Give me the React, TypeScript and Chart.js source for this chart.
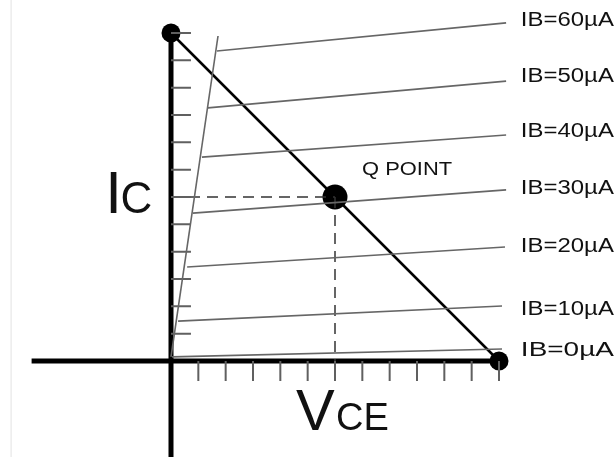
import React, { useEffect, useRef } from "react";
import { Chart, registerables } from "chart.js";

Chart.register(...registerables);

// ---- data (units: VCE divisions on x, IC divisions on y) ----
const ibLabels = ["IB=60µA", "IB=50µA", "IB=40µA", "IB=30µA", "IB=20µA", "IB=10µA", "IB=0µA"];
// where each IB curve leaves the saturation line
const curveStartX = [1.68, 1.35, 1.13, 0.8, 0.59, 0.26, 0.04];
const curveStartY = [11.34, 9.26, 7.46, 5.41, 3.44, 1.46, 0.15];
// right-hand end of each IB curve
const curveEndX = [12.26, 12.26, 12.26, 12.26, 12.22, 12.11, 12.11];
const curveEndY = [12.37, 10.24, 8.27, 6.26, 4.17, 2.01, 0.44];
// label vertical anchors (text centre)
const labelY = [12.45, 10.4, 8.38, 6.3, 4.2, 1.9, 0.4];
const labelX = 12.8;

// saturation boundary line
const saturationX = [0.0, 1.72];
const saturationY = [0.15, 11.89];

// load line endpoints
const loadLineX = [0, 12];
const loadLineY = [12, 0];

// Q point
const qPointX = 6;
const qPointY = 6;

// axis tick positions
const yTicks = [1, 2, 3, 4, 5, 6, 7, 8, 9, 10, 11, 12];
const xTicks = [1, 2, 3, 4, 5, 6, 7, 8, 9, 10, 11, 12];
const tickLen = 0.73;

// axis extents
const xAxisFrom = -5.1;
const yAxisFrom = -3.6;

// scale window
const K = 328 / 12;
const X_MIN = -171 / K;
const X_MAX = 445 / K;
const Y_MIN = -96 / K;
const Y_MAX = 361 / K;

type P = { x: number; y: number | null };

export default function App() {
  const ref = useRef<HTMLCanvasElement | null>(null);

  useEffect(() => {
    if (!ref.current) return;
    document.body.style.margin = "0";
    document.body.style.overflow = "hidden";

    const curveDatasets = ibLabels.map((lab, i) => ({
      label: lab,
      data: [
        { x: curveStartX[i], y: curveStartY[i] },
        { x: curveEndX[i], y: curveEndY[i] },
      ],
      borderColor: "#666666",
      borderWidth: 1.6,
      pointRadius: 0,
      showLine: true,
    }));

    const yTickData: P[] = [];
    yTicks.forEach((t) => {
      yTickData.push({ x: 0, y: t }, { x: tickLen, y: t }, { x: tickLen, y: null });
    });
    const xTickData: P[] = [];
    xTicks.forEach((t) => {
      xTickData.push({ x: t, y: 0 }, { x: t, y: -tickLen }, { x: t, y: null });
    });

    const textPlugin = {
      id: "texts",
      afterDatasetsDraw(chart: any) {
        const ctx = chart.ctx as CanvasRenderingContext2D;
        const sx = chart.scales.x;
        const sy = chart.scales.y;
        const font = "'Liberation Sans', Arial, sans-serif";
        const drawStretched = (
          text: string,
          x: number,
          y: number,
          size: number,
          targetW: number | null,
          baseline: CanvasTextBaseline
        ) => {
          ctx.save();
          ctx.font = `${size}px ${font}`;
          ctx.fillStyle = "#111111";
          ctx.textBaseline = baseline;
          ctx.textAlign = "left";
          const px = sx.getPixelForValue(x);
          const py = sy.getPixelForValue(y);
          ctx.translate(px, py);
          if (targetW) {
            const w = ctx.measureText(text).width;
            ctx.scale(targetW / w, 1);
          }
          ctx.fillText(text, 0, 0);
          ctx.restore();
        };
        ibLabels.forEach((lab, i) => {
          drawStretched(lab, labelX, labelY[i], 20, 93, "middle");
        });
        drawStretched("Q POINT", 6.99, 6.8, 19, 90, "alphabetic");
        drawStretched("I", -2.41, 5.41, 60, null, "alphabetic");
        drawStretched("C", -1.85, 5.41, 44, null, "alphabetic");
        drawStretched("V", 4.57, -2.52, 58, null, "alphabetic");
        drawStretched("CE", 6.04, -2.52, 38, null, "alphabetic");
      },
    };

    const chart = new Chart(ref.current, {
      type: "line",
      data: {
        datasets: [
          {
            label: "border",
            data: [
              { x: -5.85, y: Y_MIN },
              { x: -5.85, y: Y_MAX },
            ],
            borderColor: "#e2e2e2",
            borderWidth: 1,
            pointRadius: 0,
          },
          ...curveDatasets,
          {
            label: "saturation",
            data: [
              { x: saturationX[0], y: saturationY[0] },
              { x: saturationX[1], y: saturationY[1] },
            ],
            borderColor: "#666666",
            borderWidth: 1.6,
            pointRadius: 0,
          },
          {
            label: "yTicks",
            data: yTickData,
            borderColor: "#606060",
            borderWidth: 2,
            pointRadius: 0,
            spanGaps: false,
          },
          {
            label: "xTicks",
            data: xTickData,
            borderColor: "#606060",
            borderWidth: 2,
            pointRadius: 0,
            spanGaps: false,
          },
          {
            label: "qH",
            data: [
              { x: 0, y: qPointY },
              { x: qPointX, y: qPointY },
            ],
            borderColor: "#333333",
            borderWidth: 1.5,
            borderDash: [11, 7],
            pointRadius: 0,
          },
          {
            label: "qV",
            data: [
              { x: qPointX, y: qPointY },
              { x: qPointX, y: 0 },
            ],
            borderColor: "#333333",
            borderWidth: 1.5,
            borderDash: [11, 7],
            pointRadius: 0,
          },
          {
            label: "xAxis",
            data: [
              { x: xAxisFrom, y: 0 },
              { x: 12, y: 0 },
            ],
            borderColor: "#000000",
            borderWidth: 5,
            pointRadius: 0,
          },
          {
            label: "yAxis",
            data: [
              { x: 0, y: yAxisFrom },
              { x: 0, y: 12 },
            ],
            borderColor: "#000000",
            borderWidth: 5,
            pointRadius: 0,
          },
          {
            label: "loadLine",
            data: [
              { x: loadLineX[0], y: loadLineY[0] },
              { x: loadLineX[1], y: loadLineY[1] },
            ],
            borderColor: "#000000",
            borderWidth: 2.5,
            pointRadius: 0,
          },
          {
            label: "dots",
            data: [
              { x: loadLineX[0], y: loadLineY[0] },
              { x: loadLineX[1], y: loadLineY[1] },
              { x: qPointX, y: qPointY },
            ],
            showLine: false,
            pointRadius: [9.5, 9.5, 12.5],
            pointBackgroundColor: "#000000",
            pointBorderColor: "#000000",
            pointBorderWidth: 0,
          },
        ] as any,
      },
      options: {
        animation: false,
        responsive: false,
        events: [],
        layout: { padding: 0, autoPadding: false },
        datasets: { line: { clip: false as any, tension: 0 } },
        scales: {
          x: { type: "linear", display: false, min: X_MIN, max: X_MAX },
          y: { type: "linear", display: false, min: Y_MIN, max: Y_MAX },
        },
        plugins: {
          legend: { display: false },
          tooltip: { enabled: false },
        },
      },
      plugins: [textPlugin],
    });

    return () => chart.destroy();
  }, []);

  return (
    <div style={{ width: 616, height: 457, background: "#ffffff" }}>
      <canvas ref={ref} width={616} height={457} style={{ display: "block", width: 616, height: 457 }} />
    </div>
  );
}
